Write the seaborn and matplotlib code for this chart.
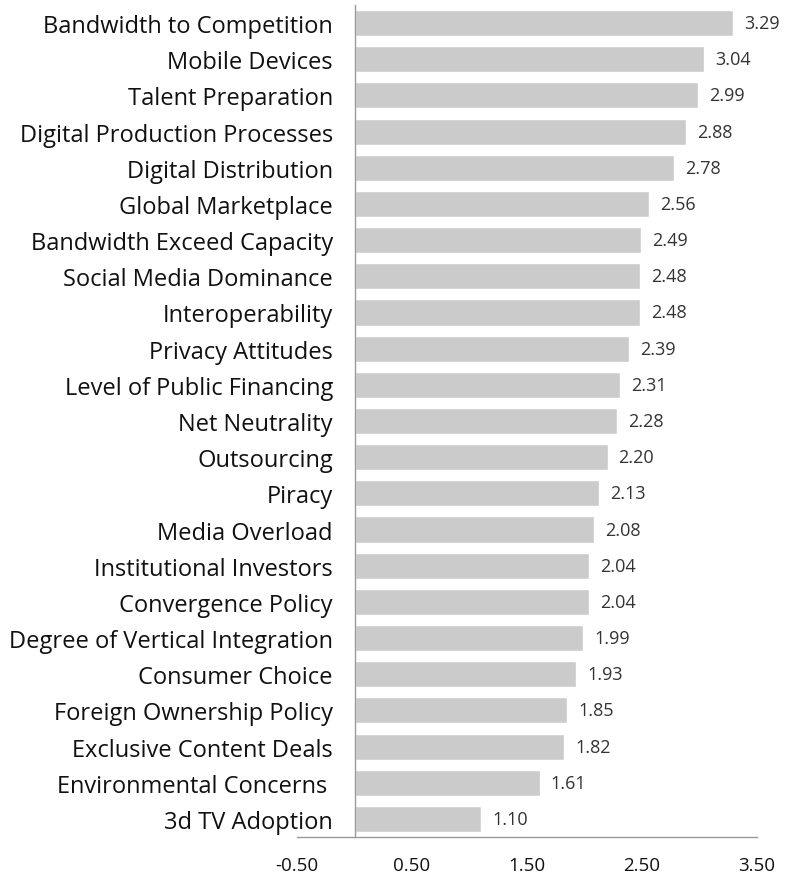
import matplotlib
matplotlib.use("Agg")
import matplotlib.pyplot as plt
import seaborn as sns
import pandas as pd
from matplotlib.ticker import FixedLocator

categories = [
    "Bandwidth to Competition", "Mobile Devices", "Talent Preparation",
    "Digital Production Processes", "Digital Distribution", "Global Marketplace",
    "Bandwidth Exceed Capacity", "Social Media Dominance", "Interoperability",
    "Privacy Attitudes", "Level of Public Financing", "Net Neutrality",
    "Outsourcing", "Piracy", "Media Overload", "Institutional Investors",
    "Convergence Policy", "Degree of Vertical Integration", "Consumer Choice",
    "Foreign Ownership Policy", "Exclusive Content Deals",
    "Environmental Concerns ", "3d TV Adoption",
]
scores = [3.29, 3.04, 2.99, 2.88, 2.78, 2.56, 2.49, 2.48, 2.48, 2.39, 2.31,
          2.28, 2.20, 2.13, 2.08, 2.04, 2.04, 1.99, 1.93, 1.85, 1.82, 1.61, 1.10]
x_ticks = [-0.5, 0.5, 1.5, 2.5, 3.5]

df = pd.DataFrame({"category": categories, "score": scores})

sns.set_theme(style="white")
plt.rcParams["font.family"] = ["Open Sans", "DejaVu Sans"]

fig = plt.figure(figsize=(8.02, 8.79), dpi=100)
ax = fig.add_axes([297 / 802, 1 - 838 / 879, 460 / 802, 832 / 879])

sns.barplot(data=df, x="score", y="category", orient="h", color="#cbcbcb",
            saturation=1, width=0.72, ax=ax)

axis_grey = "#9a9a9a"
ax.set_xlim(-0.5, 3.5)
ax.set_ylim(len(categories) - 0.5, -0.5)
ax.set_xlabel("")
ax.set_ylabel("")

for side in ("top", "right"):
    ax.spines[side].set_visible(False)
ax.spines["left"].set_position(("data", 0))
for side in ("left", "bottom"):
    ax.spines[side].set_color(axis_grey)
    ax.spines[side].set_linewidth(1.0)

ax.set_xticks(x_ticks)
ax.set_xticklabels([f"{t:.2f}" for t in x_ticks])
ax.tick_params(axis="x", which="major", direction="out", length=4,
               color=axis_grey, width=1, labelsize=13.5, pad=10, labelcolor="#111111")

ax.tick_params(axis="y", which="major", length=0, pad=15.5, labelsize=17,
               labelcolor="#111111")
ax.yaxis.set_minor_locator(FixedLocator([i - 0.5 for i in range(len(categories) + 1)]))
ax.tick_params(axis="y", which="minor", direction="out", length=4,
               color=axis_grey, width=1)

ax.bar_label(ax.containers[0], fmt="%.2f", padding=8, fontsize=13,
             color="#333333")

fig.savefig("out.png", dpi=100)
